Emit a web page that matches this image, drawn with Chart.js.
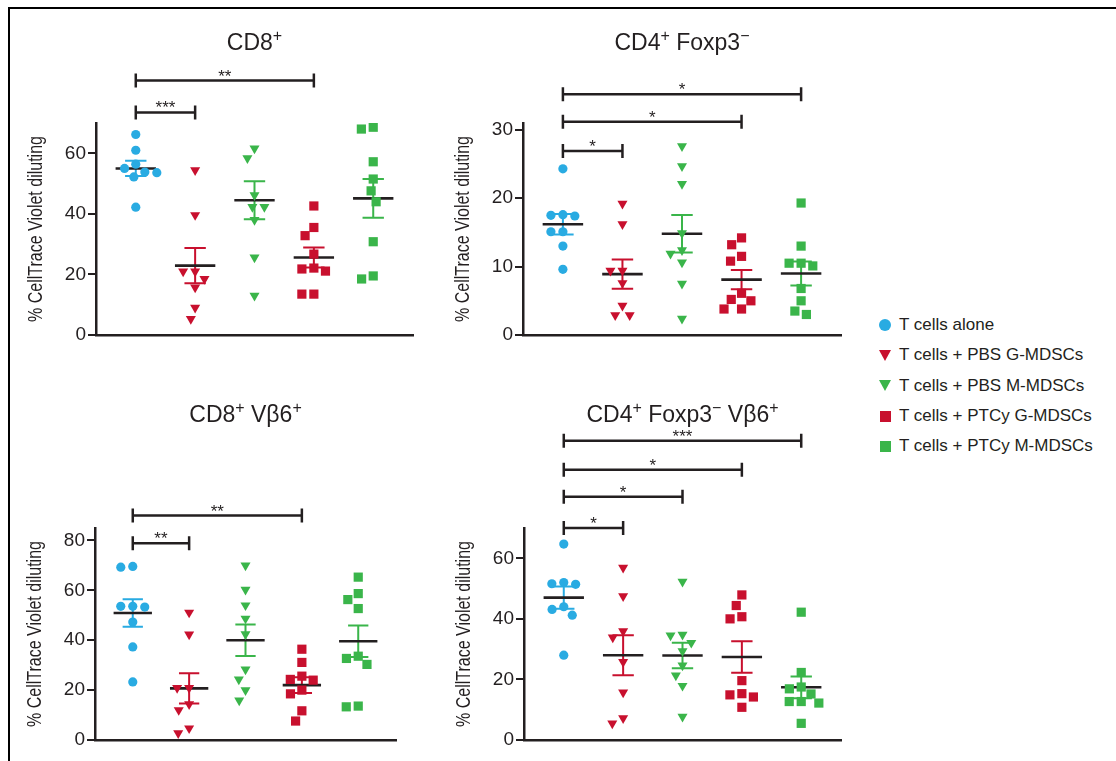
<!DOCTYPE html>
<html lang="en">
<head>
<meta charset="UTF-8">
<title>CellTrace Violet dilution</title>
<script src="https://cdn.jsdelivr.net/npm/chart.js"></script>
<style>
  html, body { margin: 0; padding: 0; background: #fff; }
  body { width: 1116px; height: 761px; position: relative; overflow: hidden;
         font-family: 'Liberation Sans', Arial, sans-serif; color: #231f20; }
  #frame { position: absolute; left: 8px; top: 7px; width: 1200px; height: 900px;
           border-top: 2px solid #000; border-left: 2px solid #000; }
  canvas { position: absolute; }
  #legend { position: absolute; left: 878px; top: 310px; font-size: 17px; }
  .row { height: 30.3px; display: flex; align-items: center; white-space: nowrap; }
  .mk { width: 14px; margin-right: 7px; display: flex; justify-content: center; }
  .dot { width: 12px; height: 12px; border-radius: 50%; }
  .tri { width: 0; height: 0; border-left: 6px solid transparent; border-right: 6px solid transparent; border-top: 11px solid; }
  .sq { width: 11px; height: 11px; }
</style>
</head>
<body>
<div id="frame"></div>
<canvas id="p1"></canvas>
<canvas id="p2"></canvas>
<canvas id="p3"></canvas>
<canvas id="p4"></canvas>
<div id="legend"></div>

<script>
// groups
const groups = ['T cells alone', 'T cells + PBS G-MDSCs', 'T cells + PBS M-MDSCs', 'T cells + PTCy G-MDSCs', 'T cells + PTCy M-MDSCs'];

// CD8+
const cd8Values = [
  [66.2, 61.0, 56.4, 55.0, 53.6, 53.8, 52.2, 42.2],
  [54.4, 39.6, 21.0, 21.0, 18.5, 15.7, 9.0, 5.3],
  [61.6, 58.4, 46.2, 42.3, 42.3, 38.0, 25.6, 13.0],
  [42.6, 35.5, 32.8, 26.7, 22.1, 21.8, 21.1, 13.5, 13.5],
  [68.6, 68.0, 57.2, 51.5, 47.6, 44.0, 30.8, 18.5, 19.5]
];
const cd8Mean = [55.0, 22.9, 44.5, 25.6, 45.1];
const cd8Sem = [2.5, 5.8, 6.3, 3.3, 6.4];
const cd8Ticks = [0, 20, 40, 60];
const cd8Brackets = [
  { from: 1, to: 4, label: '**', y: 84 },
  { from: 1, to: 2, label: '***', y: 73.5 }
];

// CD4+ Foxp3-
const cd4Values = [
  [24.3, 17.4, 17.6, 17.5, 15.1, 15.1, 13.0, 9.6],
  [19.2, 16.2, 9.4, 9.4, 7.6, 4.3, 2.9, 2.9],
  [27.6, 24.7, 22.1, 14.9, 12.4, 11.9, 10.6, 7.5, 2.4],
  [14.2, 13.2, 11.5, 10.8, 6.1, 5.0, 5.2, 3.8, 3.8],
  [19.3, 13.0, 10.5, 10.5, 10.1, 6.8, 5.0, 3.5, 3.0]
];
const cd4Mean = [16.2, 8.9, 14.8, 8.1, 9.0];
const cd4Sem = [1.5, 2.15, 2.75, 1.4, 1.75];
const cd4Ticks = [0, 10, 20, 30];
const cd4Brackets = [
  { from: 1, to: 5, label: '*', y: 35.2 },
  { from: 1, to: 4, label: '*', y: 31.2 },
  { from: 1, to: 2, label: '*', y: 26.9 }
];

// CD8+ Vb6+
const cd8vbValues = [
  [69.6, 69.3, 53.6, 53.3, 53.6, 47.3, 37.3, 23.3],
  [51.1, 42.3, 20.9, 20.9, 14.4, 12.0, 4.7, 2.7],
  [70.0, 60.3, 54.0, 48.7, 42.4, 28.3, 24.3, 20.0, 15.9],
  [36.4, 31.1, 25.6, 24.3, 24.0, 20.0, 18.5, 11.7, 7.6],
  [65.3, 58.7, 56.3, 52.7, 33.6, 32.7, 30.3, 13.6, 13.3]
];
const cd8vbMean = [50.9, 20.7, 40.0, 22.0, 39.6];
const cd8vbSem = [5.5, 6.1, 6.3, 3.2, 6.3];
const cd8vbTicks = [0, 20, 40, 60, 80];
const cd8vbBrackets = [
  { from: 1, to: 4, label: '**', y: 90 },
  { from: 1, to: 2, label: '**', y: 78.9 }
];

// CD4+ Foxp3- Vb6+
const cd4vbValues = [
  [64.7, 52.0, 51.4, 51.6, 44.0, 43.1, 41.2, 28.0],
  [56.9, 47.5, 35.9, 33.9, 25.8, 15.7, 7.2, 5.5],
  [52.3, 34.5, 34.8, 32.1, 29.3, 24.6, 21.3, 17.9, 7.7],
  [47.9, 44.4, 40.7, 40.0, 19.6, 15.3, 14.9, 14.2, 10.8],
  [42.2, 22.3, 17.5, 16.9, 15.2, 12.7, 12.7, 12.2, 5.5]
];
const cd4vbMean = [47.0, 28.0, 27.9, 27.4, 17.4];
const cd4vbSem = [3.65, 6.6, 4.2, 5.2, 3.6];
const cd4vbTicks = [0, 20, 40, 60];
const cd4vbBrackets = [
  { from: 1, to: 5, label: '***', y: 98.8 },
  { from: 1, to: 4, label: '*', y: 89.2 },
  { from: 1, to: 3, label: '*', y: 80.3 },
  { from: 1, to: 2, label: '*', y: 70.0 }
];

// styles
const colors = ['#29abe2', '#c8102e', '#3ab54a', '#c8102e', '#3ab54a'];
const shapes = ['circle', 'triangle', 'triangle', 'rect', 'rect'];
const rotations = [0, 180, 180, 0, 0];
const radii = [4.6, 5.8, 5.8, 6.5, 6.5];
const ink = '#231f20';
const yTitle = '% CellTrace Violet diluting';

// simple beeswarm so overlapping points sit side by side (pixels)
function swarm(py, d) {
  const order = py.map((v, i) => i).sort((a, b) => py[a] - py[b]);
  const placed = [];
  const off = new Array(py.length).fill(0);
  for (const i of order) {
    const y = py[i];
    const cands = [0];
    for (const p of placed) {
      const dy = Math.abs(p.y - y);
      if (dy < d) {
        const w = Math.sqrt(d * d - dy * dy);
        cands.push(p.x - w, p.x + w);
      }
    }
    cands.sort((a, b) => Math.abs(a) - Math.abs(b) || a - b);
    let x = 0;
    for (const c of cands) {
      if (placed.every(p => Math.hypot(p.x - c, p.y - y) >= d - 0.01)) { x = c; break; }
    }
    placed.push({ x, y });
    off[i] = x;
  }
  return off;
}

// titles, y title (condensed), brackets and stars
const panelText = {
  id: 'panelText',
  afterDraw(chart, args, opts) {
    const { ctx, chartArea } = chart;
    const xs = chart.scales.x, ys = chart.scales.y;
    ctx.save();
    ctx.fillStyle = ink;
    // title with superscripts
    const big = "23px 'Liberation Sans', Arial, sans-serif";
    const small = "16px 'Liberation Sans', Arial, sans-serif";
    let total = 0;
    opts.title.forEach(p => { ctx.font = p[1] ? small : big; total += ctx.measureText(p[0]).width; });
    let tx = (chartArea.left + chartArea.right) / 2 - total / 2;
    const ty = chartArea.top - opts.titleGap;
    ctx.textBaseline = 'alphabetic';
    ctx.textAlign = 'left';
    opts.title.forEach(p => {
      ctx.font = p[1] ? small : big;
      ctx.fillText(p[0], tx, p[1] ? ty - 9 : ty);
      tx += ctx.measureText(p[0]).width;
    });

    // y axis title, squeezed along its length like a condensed face
    ctx.save();
    ctx.translate(chartArea.left - 60, (chartArea.top + chartArea.bottom) / 2);
    ctx.rotate(-Math.PI / 2);
    ctx.scale(0.8, 1);
    ctx.font = "20px 'Liberation Sans', Arial, sans-serif";
    ctx.textAlign = 'center';
    ctx.textBaseline = 'middle';
    ctx.fillText(yTitle, 0, 0);
    ctx.restore();

    // significance brackets
    ctx.strokeStyle = ink;
    ctx.lineWidth = 2.5;
    ctx.font = "17px 'Liberation Sans', Arial, sans-serif";
    ctx.textAlign = 'center';
    opts.brackets.forEach(b => {
      const x1 = xs.getPixelForValue(b.from), x2 = xs.getPixelForValue(b.to);
      const y = ys.getPixelForValue(b.y);
      ctx.beginPath();
      ctx.moveTo(x1, y); ctx.lineTo(x2, y);
      ctx.moveTo(x1, y - 7); ctx.lineTo(x1, y + 7);
      ctx.moveTo(x2, y - 7); ctx.lineTo(x2, y + 7);
      ctx.stroke();
      ctx.fillText(b.label, (x1 + x2) / 2, y + 1);
    });
    ctx.restore();
  }
};

function makePanel(id, box, values, means, sems, ticks, yMax, brackets, title, titleGap) {
  const padTop = 140, padRight = 8, padBottom = 16, axisW = 75;
  const canvas = document.getElementById(id);
  const left = box.left - axisW, top = box.top - padTop;
  canvas.width = box.right + padRight - left;
  canvas.height = box.bottom + padBottom - top;
  canvas.style.left = left + 'px';
  canvas.style.top = top + 'px';

  const meanW = 0.34, capW = 0.18;
  const datasets = [];
  const pointIdx = [];
  groups.forEach((name, g) => {
    const c = g + 1, m = means[g], s = sems[g];
    pointIdx.push(datasets.length);
    datasets.push({
      label: name,
      data: values[g].map(v => ({ x: c, y: v })),
      pointStyle: shapes[g],
      pointRotation: rotations[g],
      pointRadius: radii[g],
      pointBackgroundColor: colors[g],
      pointBorderWidth: 0,
      showLine: false,
      order: 0
    });
    datasets.push({
      label: name + ' SEM',
      data: [
        { x: c - capW, y: m + s }, { x: c + capW, y: m + s }, { x: c, y: null },
        { x: c, y: m + s }, { x: c, y: m - s }, { x: c, y: null },
        { x: c - capW, y: m - s }, { x: c + capW, y: m - s }
      ],
      showLine: true, spanGaps: false,
      borderColor: colors[g], borderWidth: 2, pointRadius: 0,
      order: 2
    });
    datasets.push({
      label: name + ' mean',
      data: [{ x: c - meanW, y: m }, { x: c + meanW, y: m }],
      showLine: true,
      borderColor: ink, borderWidth: 2.6, pointRadius: 0,
      order: 1
    });
  });

  const chart = new Chart(canvas, {
    type: 'scatter',
    data: { datasets },
    options: {
      responsive: false,
      animation: false,
      events: [],
      layout: { autoPadding: false, padding: { top: padTop, right: padRight, bottom: padBottom, left: 0 } },
      scales: {
        x: {
          type: 'linear', min: 0.33, max: 5.67,
          grid: { display: false, drawTicks: false },
          ticks: { display: false },
          border: { display: true, color: ink, width: 2.5 },
          afterFit: s => { s.height = 0; }
        },
        y: {
          min: 0, max: yMax,
          afterBuildTicks: s => { s.ticks = ticks.map(v => ({ value: v })); },
          afterFit: s => { s.width = axisW; },
          grid: { display: true, drawOnChartArea: false, drawTicks: true, tickLength: 8, color: ink, lineWidth: 2 },
          border: { display: true, color: ink, width: 2.5 },
          ticks: { color: ink, padding: 2, font: { family: "'Liberation Sans', Arial, sans-serif", size: 19 } },
          title: { display: false }
        }
      },
      plugins: {
        legend: { display: false },
        tooltip: { enabled: false },
        panelText: { title, titleGap, brackets }
      }
    },
    plugins: [panelText]
  });

  // spread overlapping points horizontally using the chart's own scales
  const xs = chart.scales.x, ys = chart.scales.y;
  const unit = xs.getPixelForValue(2) - xs.getPixelForValue(1);
  values.forEach((vals, g) => {
    const off = swarm(vals.map(v => ys.getPixelForValue(v)), 12);
    chart.data.datasets[pointIdx[g]].data = vals.map((v, i) => ({ x: g + 1 + off[i] / unit, y: v }));
  });
  chart.update('none');
  return chart;
}

makePanel('p1', { left: 96, top: 123, right: 413, bottom: 335 }, cd8Values, cd8Mean, cd8Sem, cd8Ticks, 70, cd8Brackets,
  [['CD8', 0], ['+', 1]], 73);
makePanel('p2', { left: 523, top: 123, right: 841, bottom: 335 }, cd4Values, cd4Mean, cd4Sem, cd4Ticks, 31, cd4Brackets,
  [['CD4', 0], ['+', 1], [' Foxp3', 0], ['\u2212', 1]], 73);
makePanel('p3', { left: 95, top: 528, right: 396, bottom: 740 }, cd8vbValues, cd8vbMean, cd8vbSem, cd8vbTicks, 85, cd8vbBrackets,
  [['CD8', 0], ['+', 1], [' V\u03b26', 0], ['+', 1]], 106);
makePanel('p4', { left: 524, top: 528, right: 841, bottom: 740 }, cd4vbValues, cd4vbMean, cd4vbSem, cd4vbTicks, 70, cd4vbBrackets,
  [['CD4', 0], ['+', 1], [' Foxp3', 0], ['\u2212', 1], [' V\u03b26', 0], ['+', 1]], 106);

// legend
const legendShapes = ['dot', 'tri', 'tri', 'sq', 'sq'];
const legend = document.getElementById('legend');
groups.forEach((name, g) => {
  const row = document.createElement('div');
  row.className = 'row';
  const mk = document.createElement('span');
  mk.className = 'mk';
  const shape = document.createElement('span');
  shape.className = legendShapes[g];
  if (legendShapes[g] === 'tri') shape.style.borderTopColor = colors[g];
  else shape.style.background = colors[g];
  mk.appendChild(shape);
  row.appendChild(mk);
  row.appendChild(document.createTextNode(name));
  legend.appendChild(row);
});
</script>
</body>
</html>
